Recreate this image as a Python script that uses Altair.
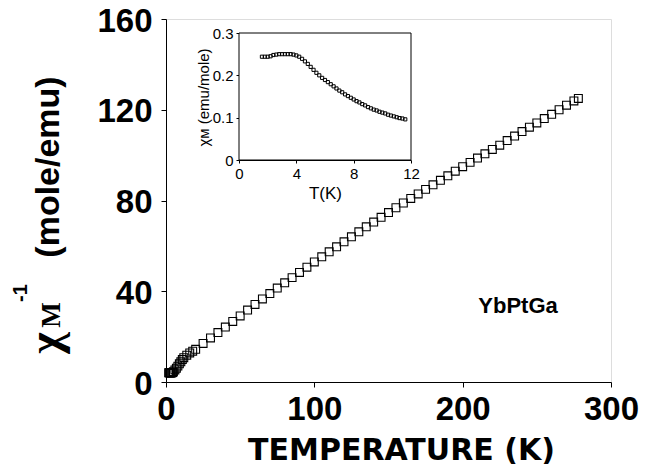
import altair as alt
import pandas as pd

# ---------------- data ----------------
main_T = [1.8, 2.2, 2.6, 3.0, 3.5, 4.0, 4.5, 5.0, 6.0, 7.0, 8.0, 9.0, 10.0, 11.0, 12.0,
          14.0, 16.0, 18.0, 20.0, 25, 30, 35, 40, 45, 50, 55, 60, 65, 70, 75, 80, 85, 90,
          95, 100, 105, 110, 115, 120, 125, 130, 135, 140, 145, 150, 155, 160, 165, 170,
          175, 180, 185, 190, 195, 200, 205, 210, 215, 220, 225, 230, 235, 240, 245, 250,
          255, 260, 265, 270, 275, 278]
main_inv = [4.1, 4.1, 4.0, 4.0, 4.0, 4.05, 4.2, 4.55, 5.3, 6.1, 7.0, 8.0, 8.9, 9.9, 10.7,
            11.8, 12.8, 13.6, 14.4, 17.0, 19.4, 21.8, 24.2, 26.7, 29.1, 31.7, 34.2, 36.6,
            39.0, 41.4, 43.7, 46.0, 48.3, 50.6, 52.9, 55.2, 57.4, 59.6, 61.8, 64.0, 66.2,
            68.4, 70.5, 72.6, 74.7, 76.8, 78.9, 80.9, 82.9, 84.9, 86.9, 88.9, 90.9, 92.9,
            94.9, 96.8, 98.7, 100.6, 102.5, 104.4, 106.4, 108.4, 110.4, 112.3, 114.2,
            116.1, 118.0, 120.0, 122.0, 123.9, 125.0]

inset_T = [1.6, 1.8, 2.0, 2.2, 2.4, 2.6, 2.8, 3.0, 3.2, 3.4, 3.6, 3.8, 4.0, 4.2, 4.4, 4.6,
           4.8, 5.0, 5.2, 5.4, 5.6, 5.8, 6.0, 6.2, 6.4, 6.6, 6.8, 7.0, 7.2, 7.4, 7.6, 7.8,
           8.0, 8.2, 8.4, 8.6, 8.8, 9.0, 9.2, 9.4, 9.6, 9.8, 10.0, 10.2, 10.4, 10.6, 10.8,
           11.0, 11.2, 11.4, 11.6]
inset_chi = [0.244, 0.244, 0.244, 0.245, 0.248, 0.249, 0.250, 0.250, 0.250, 0.250, 0.250,
             0.249, 0.247, 0.244, 0.239, 0.233, 0.227, 0.220, 0.213, 0.206, 0.200, 0.194,
             0.189, 0.184, 0.179, 0.174, 0.169, 0.164, 0.160, 0.155, 0.151, 0.147, 0.143,
             0.139, 0.136, 0.132, 0.129, 0.125, 0.122, 0.119, 0.117, 0.114, 0.112, 0.110,
             0.107, 0.105, 0.103, 0.101, 0.099, 0.098, 0.096]

main_x_ticks = [0, 100, 200, 300]
main_y_ticks = [0, 40, 80, 120, 160]
inset_x_ticks = [0, 4, 8, 12]
inset_y_ticks = [0, 0.1, 0.2, 0.3]

W, H = 445, 363

main_df = pd.DataFrame({"T": main_T, "inv": main_inv})
inset_df = pd.DataFrame({"T": inset_T, "chi": inset_chi})
box_df = pd.DataFrame({"x0": [inset_x_ticks[0]], "x1": [inset_x_ticks[-1]],
                       "y0": [inset_y_ticks[0]], "y1": [inset_y_ticks[-1]]})
one = pd.DataFrame({"a": [0]})

# ---------------- main panel ----------------
main_x_axis = alt.Axis(values=main_x_ticks, title="TEMPERATURE (K)", grid=False,
                       labelFont="Liberation Sans", labelFontWeight="bold", labelFontSize=33,
                       labelColor="black", labelPadding=6, labelFlush=False,
                       tickSize=5, tickColor="black", domainColor="black",
                       titleFont="DejaVu Sans", titleFontWeight="bold", titleFontSize=30,
                       titleColor="black", titleX=235, titleY=77, titleBaseline="alphabetic",
                       titleAlign="center")
main_y_axis = alt.Axis(values=main_y_ticks, title=None, grid=False,
                       labelFont="Liberation Sans", labelFontWeight="bold", labelFontSize=33,
                       labelColor="black", labelPadding=9, labelFlush=False, labelOffset=2,
                       tickSize=5, tickColor="black", domainColor="black")

points = alt.Chart(main_df).mark_point(shape="square", filled=False, size=62,
                                       color="black", strokeWidth=1.1, opacity=1).encode(
    x=alt.X("T:Q", scale=alt.Scale(domain=[0, 300], nice=False), axis=main_x_axis),
    y=alt.Y("inv:Q", scale=alt.Scale(domain=[0, 160], nice=False), axis=main_y_axis),
)

def label(text, x, y, size, font="Liberation Sans", angle=270):
    return alt.Chart(one).mark_text(text=text, font=font, fontWeight="bold", fontSize=size,
                                    angle=angle, align="center", baseline="middle",
                                    color="black").encode(x=alt.value(x), y=alt.value(y))

chi_lbl = label("χ", -120, 324, 46, font="Liberation Serif")
m_lbl = label("M", -114, 296, 27, font="Liberation Serif")
sup_lbl = label("-1", -145, 274, 20)
unit_lbl = label("(mole/emu)", -117, 148, 34)
sample_lbl = alt.Chart(one).mark_text(text="YbPtGa", font="Liberation Sans", fontWeight="bold",
                                      fontSize=22, align="center", baseline="middle",
                                      color="black").encode(x=alt.value(352), y=alt.value(287))

main = alt.layer(points, chi_lbl, m_lbl, sup_lbl, unit_lbl, sample_lbl)

# ---------------- inset panel ----------------
ix_scale = alt.Scale(domain=[0, 12], range=[73, 245], nice=False)
iy_scale = alt.Scale(domain=[0, 0.3], range=[141, 14], nice=False)
ix_axis = alt.Axis(values=inset_x_ticks, orient="bottom", offset=-222, title="T(K)", grid=False,
                   labelFont="Liberation Sans", labelFontSize=15, labelColor="black",
                   labelPadding=3, labelFlush=False, tickSize=3, tickColor="black",
                   domainColor="black", titleFont="Liberation Sans", titleFontSize=17,
                   titleFontWeight="normal", titleColor="black", titleBaseline="top",
                   titleY=25, titleX=159)
iy_axis = alt.Axis(values=inset_y_ticks, orient="left", offset=-73, title="χᴍ (emu/mole)",
                   grid=False, labelFont="Liberation Sans", labelFontSize=15,
                   labelColor="black", labelPadding=3, labelFlush=False, tickSize=3,
                   tickColor="black", domainColor="black",
                   labelExpr="datum.value == 0 ? '0' : format(datum.value, '.1f')",
                   titleFont="Liberation Sans", titleFontSize=15, titleFontWeight="normal",
                   titleColor="black", titleAngle=270, titleBaseline="middle",
                   titleX=-36, titleY=78, titleAlign="center")

box = alt.Chart(box_df).mark_rect(fill="white", stroke="black", strokeWidth=1).encode(
    x=alt.X("x0:Q", scale=ix_scale, axis=ix_axis), x2="x1:Q",
    y=alt.Y("y0:Q", scale=iy_scale, axis=iy_axis), y2="y1:Q",
)
ipoints = alt.Chart(inset_df).mark_point(shape="square", filled=False, size=10,
                                         color="black", strokeWidth=1, opacity=1).encode(
    x=alt.X("T:Q", scale=ix_scale, axis=ix_axis),
    y=alt.Y("chi:Q", scale=iy_scale, axis=iy_axis),
)
inset = alt.layer(box, ipoints)

chart = alt.layer(main, inset).resolve_scale(x="independent", y="independent").properties(
    width=W, height=H,
    autosize=alt.AutoSizeParams(type="none"),
    padding={"left": 158, "top": 11, "right": 28, "bottom": 83},
).configure_view(stroke="black", strokeWidth=1).configure(background="white")

chart.save("out.html", embed_options={"renderer": "svg", "actions": False})
